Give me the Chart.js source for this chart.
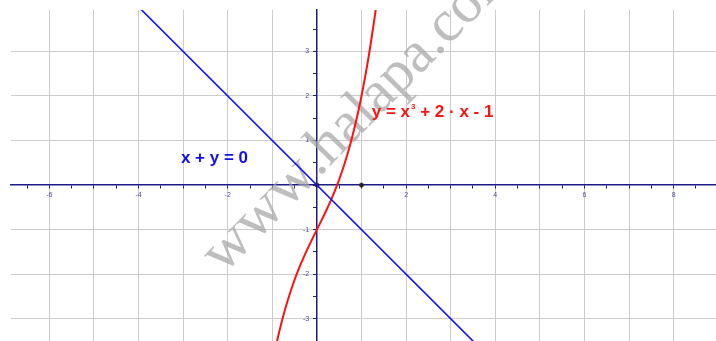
<!DOCTYPE html>
<html>
<head>
<meta charset="utf-8">
<script src="https://cdn.jsdelivr.net/npm/chart.js@4/dist/chart.umd.min.js"></script>
<style>
  html, body { margin: 0; padding: 0; background: #ffffff; overflow: hidden; }
  #wrap { width: 716px; height: 341px; position: relative; }
</style>
</head>
<body>
<div id="wrap"><canvas id="c" width="716" height="341"></canvas></div>
<script>
// ---- data ----
const xLabeledTicks = [-6, -4, -2, 2, 4, 6, 8];
const yLabeledTicks = [-3, -2, -1, 1, 2, 3];

// line x + y = 0
const lineX = [-4.5, 4.0];
const lineY = [4.5, -4.0];

// curve y = x^3 + 2x - 1 (points read/estimated)
const curveX = [-0.95, -0.9, -0.8, -0.7, -0.6, -0.5, -0.4, -0.3, -0.2, -0.1, 0.0, 0.1, 0.2, 0.3, 0.4, 0.5, 0.6, 0.7, 0.8, 0.9, 1.0, 1.1, 1.2, 1.3, 1.35];
const curveY = [-3.757, -3.529, -3.112, -2.743, -2.416, -2.125, -1.864, -1.627, -1.408, -1.201, -1.0, -0.799, -0.592, -0.373, -0.136, 0.125, 0.416, 0.743, 1.112, 1.529, 2.0, 2.531, 3.128, 3.797, 4.16];

// marked points
const markX = [0, 1];
const markY = [0, 0];

// labels
const lineLabel = 'x + y = 0';
const curveLabelA = 'y = x';
const curveLabelSup = '3';
const curveLabelB = ' + 2 \u00b7 x - 1';
const watermarkA = 'www';
const watermarkB = '.halapa.com';

const toPts = (xs, ys) => xs.map((x, i) => ({ x: x, y: ys[i] }));

const AXIS = '#1c1c86';
const TICKTXT = '#4a4aa0';
const GRID = '#cccccc';

const isInt = v => Math.abs(v - Math.round(v)) < 1e-9;
const zeroPad = s => { s.paddingLeft = 0; s.paddingRight = 0; s.paddingTop = 0; s.paddingBottom = 0; };

const watermarkPlugin = {
  id: 'watermark',
  beforeDatasetsDraw(chart) {
    const ctx = chart.ctx;
    const a = chart.chartArea;
    ctx.save();
    ctx.beginPath();
    ctx.rect(a.left, 0, a.right - a.left, a.bottom);
    ctx.clip();
    ctx.translate(223, 275);
    ctx.rotate(-45.5 * Math.PI / 180);
    ctx.font = '59px "Liberation Serif", "DejaVu Serif", serif';
    ctx.fillStyle = 'rgba(165,165,165,0.72)';
    ctx.textBaseline = 'alphabetic';
    ctx.textAlign = 'left';
    const wA = ctx.measureText(watermarkA).width;
    const sx = 137 / wA;
    ctx.save();
    ctx.scale(sx, 1);
    ctx.fillText(watermarkA, 0, 0);
    ctx.restore();
    ctx.fillText(watermarkB, 137, 0);
    ctx.restore();
  }
};

const labelPlugin = {
  id: 'labels',
  afterDatasetsDraw(chart) {
    const ctx = chart.ctx;
    const xs = chart.scales.x, ys = chart.scales.y;
    ctx.save();
    ctx.font = 'bold 17px "Liberation Sans", Arial, sans-serif';
    ctx.textBaseline = 'alphabetic';
    ctx.textAlign = 'left';
    ctx.fillStyle = '#1010ee';
    ctx.fillText(lineLabel, xs.getPixelForValue(-3.05), ys.getPixelForValue(0.49));
    ctx.fillStyle = '#ff1010';
    let px = xs.getPixelForValue(1.23);
    const py = ys.getPixelForValue(1.52);
    ctx.fillText(curveLabelA, px, py);
    px += ctx.measureText(curveLabelA).width + 1;
    ctx.font = 'bold 8px "Liberation Sans", Arial, sans-serif';
    ctx.fillText(curveLabelSup, px, py - 8);
    px += ctx.measureText(curveLabelSup).width;
    ctx.font = 'bold 17px "Liberation Sans", Arial, sans-serif';
    ctx.fillText(curveLabelB, px, py);
    ctx.restore();
  }
};

new Chart(document.getElementById('c'), {
  type: 'scatter',
  data: {
    datasets: [
      {
        label: 'line',
        data: toPts(lineX, lineY),
        showLine: true,
        borderColor: '#1414f0',
        borderWidth: 1.6,
        pointRadius: 0,
        fill: false
      },
      {
        label: 'curve',
        data: toPts(curveX, curveY),
        showLine: true,
        borderColor: '#ff1111',
        borderWidth: 2,
        pointRadius: 0,
        tension: 0.4,
        cubicInterpolationMode: 'monotone',
        fill: false
      },
      {
        label: 'points',
        data: toPts(markX, markY),
        showLine: false,
        pointRadius: 2.2,
        pointBackgroundColor: '#222222',
        pointBorderColor: '#442222',
        pointBorderWidth: 0.5
      }
    ]
  },
  options: {
    responsive: false,
    animation: false,
    devicePixelRatio: 1,
    layout: { autoPadding: false, padding: { left: 11, top: 10, right: 0, bottom: 0 } },
    plugins: { legend: { display: false }, tooltip: { enabled: false } },
    scales: {
      x: {
        type: 'linear',
        min: -6.86,
        max: 8.95,
        position: { y: 0 },
        afterFit: zeroPad,
        border: { display: true, color: AXIS, width: 1.5 },
        grid: {
          color: c => (c.tick && isInt(c.tick.value) && Math.round(c.tick.value) !== 0) ? GRID : 'rgba(0,0,0,0)',
          lineWidth: 1,
          drawTicks: true,
          tickLength: 3,
          tickColor: AXIS,
          tickWidth: 1
        },
        ticks: {
          stepSize: 0.5,
          includeBounds: false,
          autoSkip: false,
          maxRotation: 0,
          padding: 3,
          color: TICKTXT,
          font: { size: 7, family: '"Liberation Sans", Arial, sans-serif' },
          callback: v => xLabeledTicks.some(t => Math.abs(t - v) < 1e-9) ? String(Math.round(v)) : ''
        }
      },
      y: {
        type: 'linear',
        min: -3.5,
        max: 3.93,
        position: { x: 0 },
        afterFit: zeroPad,
        border: { display: true, color: AXIS, width: 1.5 },
        grid: {
          color: c => (c.tick && isInt(c.tick.value) && Math.round(c.tick.value) !== 0) ? GRID : 'rgba(0,0,0,0)',
          lineWidth: 1,
          drawTicks: true,
          tickLength: 3,
          tickColor: AXIS,
          tickWidth: 1
        },
        ticks: {
          stepSize: 0.5,
          includeBounds: false,
          autoSkip: false,
          padding: 2,
          color: TICKTXT,
          font: { size: 7, family: '"Liberation Sans", Arial, sans-serif' },
          callback: v => yLabeledTicks.some(t => Math.abs(t - v) < 1e-9) ? String(Math.round(v)) + '    ' : ''
        }
      }
    }
  },
  plugins: [watermarkPlugin, labelPlugin]
});
</script>
</body>
</html>
